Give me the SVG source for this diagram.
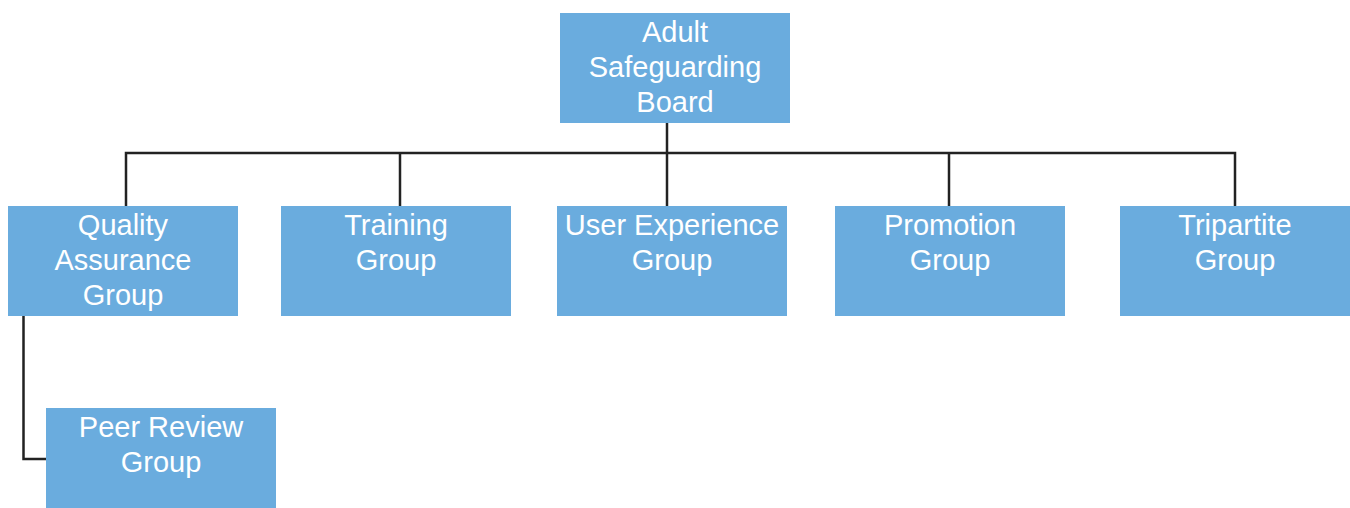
<svg xmlns="http://www.w3.org/2000/svg" width="1350" height="508" viewBox="0 0 1350 508">
  <style>
    .box { fill: #6aacde; }
    .lbl { font-family: "Liberation Sans", Arial, sans-serif; font-size: 29px; fill: #ffffff; text-anchor: middle; }
    .wire { fill: none; stroke: #222222; stroke-width: 2.5; stroke-linejoin: miter; }
  </style>
  <rect width="1350" height="508" fill="#ffffff"/>

  <g id="connectors">
    <path class="wire" d="M667,123 V206"/>
    <path class="wire" d="M126,206 V153 H1235 V206"/>
    <path class="wire" d="M400,153 V206"/>
    <path class="wire" d="M949,153 V206"/>
    <path class="wire" d="M23.5,316 V459 H46"/>
  </g>

  <g id="board">
    <rect class="box" x="560" y="13" width="230" height="110"/>
    <text class="lbl" x="675" y="42">Adult</text>
    <text class="lbl" x="675" y="77">Safeguarding</text>
    <text class="lbl" x="675" y="112">Board</text>
  </g>

  <g id="quality-assurance">
    <rect class="box" x="8" y="206" width="230" height="110"/>
    <text class="lbl" x="123" y="235">Quality</text>
    <text class="lbl" x="123" y="270">Assurance</text>
    <text class="lbl" x="123" y="305">Group</text>
  </g>

  <g id="training">
    <rect class="box" x="281" y="206" width="230" height="110"/>
    <text class="lbl" x="396" y="235">Training</text>
    <text class="lbl" x="396" y="270">Group</text>
  </g>

  <g id="user-experience">
    <rect class="box" x="557" y="206" width="230" height="110"/>
    <text class="lbl" x="672" y="235">User Experience</text>
    <text class="lbl" x="672" y="270">Group</text>
  </g>

  <g id="promotion">
    <rect class="box" x="835" y="206" width="230" height="110"/>
    <text class="lbl" x="950" y="235">Promotion</text>
    <text class="lbl" x="950" y="270">Group</text>
  </g>

  <g id="tripartite">
    <rect class="box" x="1120" y="206" width="230" height="110"/>
    <text class="lbl" x="1235" y="235">Tripartite</text>
    <text class="lbl" x="1235" y="270">Group</text>
  </g>

  <g id="peer-review">
    <rect class="box" x="46" y="408" width="230" height="110"/>
    <text class="lbl" x="161" y="437">Peer Review</text>
    <text class="lbl" x="161" y="472">Group</text>
  </g>
</svg>
